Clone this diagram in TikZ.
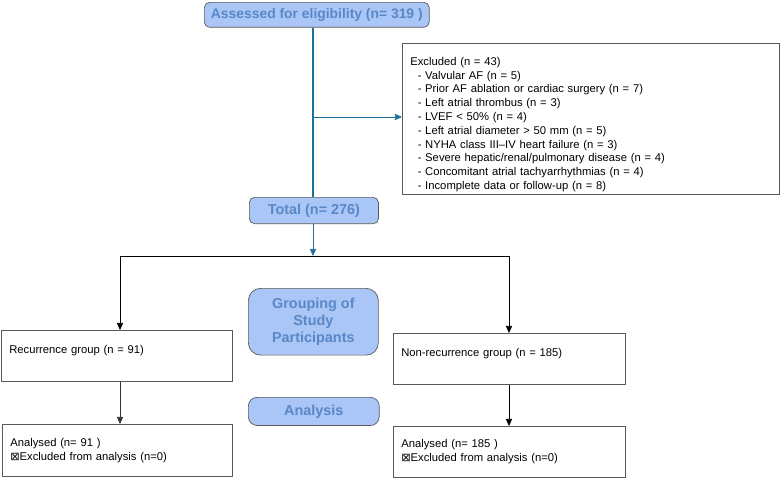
\documentclass[tikz,border=0pt]{standalone}
\usepackage{fontspec}
\setmainfont{Liberation Sans}
\newfontfamily\symfont{DejaVu Sans}
\usetikzlibrary{arrows.meta}
\definecolor{boxblue}{HTML}{A9C6F7}
\definecolor{textblue}{HTML}{5A87C6}
\definecolor{lineblue}{HTML}{20709C}
\newcommand{\xbox}{{\symfont\char"22A0}}
\begin{document}
\begin{tikzpicture}[x=0.02cm,y=-0.02cm,
  stage/.style={draw=gray!70!black,fill=boxblue,text=textblue,font=\bfseries\fontsize{8.2}{9.6}\selectfont,align=center,inner sep=0pt,anchor=north west},
  info/.style={draw=gray!70!black,fill=white,font=\fontsize{6.4}{7.85}\selectfont,align=left,inner xsep=4.5pt,inner ysep=0pt,anchor=north west},
  arr/.style={-{Triangle[length=4pt,width=3.5pt]},thin}]

\useasboundingbox (0,0) rectangle (780,478);

% top part
\node[stage,rounded corners=3pt,minimum width=128pt,minimum height=14.2pt,font=\bfseries\fontsize{7.9}{9.6}\selectfont] (assessed) at (204,2) {Assessed for eligibility (n= 319 )};
\node[info,minimum width=214.5pt,minimum height=86pt,text width=205.5pt] (excluded) at (402,43) {\rule{0pt}{11pt}Excluded (n = 43)\\
\ \ - Valvular AF (n = 5)\\
\ \ - Prior AF ablation or cardiac surgery (n = 7)\\
\ \ - Left atrial thrombus (n = 3)\\
\ \ - LVEF < 50\% (n = 4)\\
\ \ - Left atrial diameter > 50 mm (n = 5)\\
\ \ - NYHA class III--IV heart failure (n = 3)\\
\ \ - Severe hepatic/renal/pulmonary disease (n = 4)\\
\ \ - Concomitant atrial tachyarrhythmias (n = 4)\\
\ \ - Incomplete data or follow-up (n = 8)};
\node[stage,rounded corners=3pt,minimum width=73.5pt,minimum height=15pt] (total) at (249,197) {Total (n= 276)};

\coordinate (split) at (313,117);
\coordinate (fork) at (313,256);
\draw[lineblue,thick] (assessed.south -| split) -- (total.north -| split);
\draw[lineblue,thick,arr] (split) -- (excluded.west |- split);
\draw[lineblue,thick,arr] (total.south -| fork) -- (fork);

% groups
\node[info,minimum width=131.5pt,minimum height=29pt,text width=122.5pt] (recur) at (1,330) {Recurrence group (n = 91)\\\mbox{}};
\node[info,minimum width=132pt,minimum height=29pt,text width=123pt] (nonrecur) at (393,333) {Non-recurrence group (n = 185)\\\mbox{}};
\node[stage,rounded corners=7pt,minimum width=74pt,minimum height=38pt] (grouping) at (248,288) {Grouping of\\Study\\Participants};

\coordinate (left) at (120,256);
\coordinate (right) at (509,256);
\draw (left) -- (right);
\draw[arr] (left) -- (left |- recur.north);
\draw[arr] (right) -- (right |- nonrecur.north);

% analysis
\node[stage,rounded corners=5pt,minimum width=74.5pt,minimum height=16pt] (analysis) at (248,397) {Analysis};
\node[info,minimum width=131pt,minimum height=29.5pt,text width=122pt] (anarecur) at (2,424) {Analysed (n= 91 )\\\xbox Excluded from analysis (n=0)};
\node[info,minimum width=132pt,minimum height=29pt,text width=123pt] (ananon) at (393,426) {Analysed (n= 185 )\\\xbox Excluded from analysis (n=0)};

\draw[arr,gray!40!black] (left |- recur.south) -- (left |- anarecur.north);
\draw[arr] (right |- nonrecur.south) -- (right |- ananon.north);

\end{tikzpicture}
\end{document}
